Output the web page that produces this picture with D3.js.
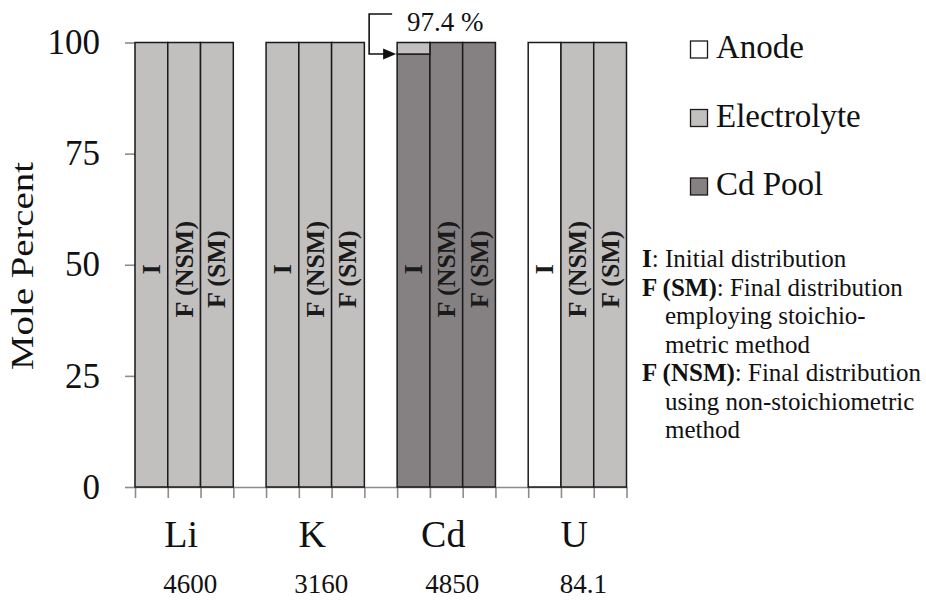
<!DOCTYPE html>
<html>
<head>
<meta charset="utf-8">
<script src="https://cdn.jsdelivr.net/npm/d3@7"></script>
<style>
  body { margin: 0; background: #fff; }
  svg text { font-family: "Liberation Serif", "DejaVu Serif", serif; }
</style>
</head>
<body>
<div id="chart"></div>
<script>
var categories = ["Li", "K", "Cd", "U"];
var totals = ["4600", "3160", "4850", "84.1"];
var distributions = ["I", "F (NSM)", "F (SM)"];

// mole percent per bar: Li I, F(NSM), F(SM), K ..., Cd ..., U ...
var anode       = [0, 0, 0,   0, 0, 0,   0, 0, 0,        100, 0, 0];
var electrolyte = [100, 100, 100,   100, 100, 100,   2.6, 0, 0,   0, 100, 100];
var cdPool      = [0, 0, 0,   0, 0, 0,   97.4, 100, 100,  0, 0, 0];

var yTicks = [0, 25, 50, 75, 100];
var legendKeys = ["Anode", "Electrolyte", "Cd Pool"];

var colors = {
    anode: "#ffffff",
    electrolyte: "#c2bfbf",
    cdPool: "#858182"
};

var serif = "'Liberation Serif', 'DejaVu Serif', serif";

var svgWidth = 926;
var svgHeight = 601;

var svg = d3.select("#chart")
    .append("svg")
    .attr("width", svgWidth)
    .attr("height", svgHeight);

// 4 slots per element (3 bars + gap)
var x = d3.scaleLinear()
    .domain([0, categories.length * 4 - 1])
    .range([135, 626.5]);

var y = d3.scaleLinear()
    .domain([0, 100])
    .range([487, 42.5]);

var slotW = x(1) - x(0);

var rows = [];
categories.forEach(function(c, ci) {
    distributions.forEach(function(d, di) {
        var i = ci * 3 + di;
        rows.push({
            slot: ci * 4 + di,
            dist: d,
            anode: anode[i],
            electrolyte: electrolyte[i],
            cdPool: cdPool[i]
        });
    });
});

var stack = d3.stack().keys(["cdPool", "anode", "electrolyte"]);
var series = stack(rows);

// axes
var axisColor = "#8e8b8b";

var leftAxis = d3.axisLeft(y).tickValues(yTicks).tickSize(10).tickSizeOuter(0).tickPadding(25);
var yG = svg.append("g")
    .attr("transform", "translate(" + x(0) + ",0)")
    .call(leftAxis);
yG.attr("font-family", serif);
yG.selectAll("text")
    .style("font-size", "35px")
    .attr("fill", "#111");

var bottomAxis = d3.axisBottom(x).tickValues(d3.range(0, categories.length * 4)).tickSize(11).tickSizeOuter(0).tickFormat("");
svg.append("g")
    .attr("transform", "translate(0," + y(0) + ")")
    .call(bottomAxis);

svg.selectAll(".domain, .tick line")
    .attr("stroke", axisColor)
    .attr("stroke-width", 1.6);

// bars
series.forEach(function(s) {
    svg.append("g")
        .selectAll("rect")
        .data(s.filter(function(d) { return d[1] - d[0] > 0; }))
        .enter()
        .append("rect")
        .attr("x", function(d) { return x(d.data.slot); })
        .attr("width", slotW)
        .attr("y", function(d) { return y(d[1]); })
        .attr("height", function(d) { return y(d[0]) - y(d[1]); })
        .attr("fill", colors[s.key])
        .attr("stroke", "#1c1a1a")
        .attr("stroke-width", 1.5);
});

// bar labels
svg.append("g")
    .selectAll("text")
    .data(rows)
    .enter()
    .append("text")
    .attr("transform", function(d) {
        return "translate(" + (x(d.slot) + slotW / 2) + "," + y(49) + ") rotate(-90)";
    })
    .attr("text-anchor", "middle")
    .attr("dominant-baseline", "central")
    .style("font-size", "26px")
    .style("font-weight", "bold")
    .attr("fill", "#1a1a1a")
    .text(function(d) { return d.dist; });

// element labels
svg.append("g")
    .selectAll("text")
    .data(categories)
    .enter()
    .append("text")
    .attr("x", function(d, i) { return x(i * 4 + 1.5) - 3; })
    .attr("y", 547)
    .attr("text-anchor", "middle")
    .style("font-size", "38px")
    .attr("fill", "#111")
    .text(function(d) { return d; });

svg.append("g")
    .selectAll("text")
    .data(totals)
    .enter()
    .append("text")
    .attr("x", function(d, i) { return x(i * 4 + 1.5) + 6; })
    .attr("y", 593)
    .attr("text-anchor", "middle")
    .style("font-size", "27px")
    .attr("fill", "#111")
    .text(function(d) { return d; });

// y title
svg.append("text")
    .attr("transform", "translate(33,266) rotate(-90)")
    .attr("text-anchor", "middle")
    .attr("textLength", 208)
    .attr("lengthAdjust", "spacingAndGlyphs")
    .style("font-size", "31px")
    .attr("fill", "#111")
    .text("Mole Percent");

// 97.4 % callout
var cdI = rows[6];
var arrowY = y(cdI.cdPool);
var arrowX = x(cdI.slot);
svg.append("path")
    .attr("d", "M" + (arrowX - 5) + ",14H" + (arrowX - 28) + "V" + arrowY + "H" + (arrowX - 12))
    .attr("fill", "none")
    .attr("stroke", "#111")
    .attr("stroke-width", 1.6);
svg.append("path")
    .attr("d", "M" + (arrowX - 1) + "," + arrowY + "l-13,-5.5v11z")
    .attr("fill", "#111");
svg.append("text")
    .attr("x", 407)
    .attr("y", 31)
    .style("font-size", "27px")
    .attr("fill", "#111")
    .text(cdI.cdPool + " %");

// legend
var legend = svg.append("g")
    .selectAll("g")
    .data(legendKeys)
    .enter()
    .append("g")
    .attr("transform", function(d, i) { return "translate(690," + (58 + i * 68.5) + ")"; });

legend.append("rect")
    .attr("x", 0.5)
    .attr("y", -17)
    .attr("width", 17)
    .attr("height", 17)
    .attr("fill", function(d, i) { return colors[["anode", "electrolyte", "cdPool"][i]]; })
    .attr("stroke", "#1c1a1a")
    .attr("stroke-width", 1.3);

legend.append("text")
    .attr("x", 26)
    .attr("y", 0)
    .style("font-size", "33px")
    .attr("fill", "#111")
    .text(function(d) { return d; });

// notes
var notes = [
    { b: "I", t: ": Initial distribution", x: 642 },
    { b: "F (SM)", t: ": Final distribution", x: 642 },
    { b: "", t: "employing stoichio-", x: 665 },
    { b: "", t: "metric method", x: 665 },
    { b: "F (NSM)", t: ": Final distribution", x: 642 },
    { b: "", t: "using non-stoichiometric", x: 665 },
    { b: "", t: "method", x: 665 }
];

var noteText = svg.append("g")
    .selectAll("text")
    .data(notes)
    .enter()
    .append("text")
    .attr("x", function(d) { return d.x; })
    .attr("y", function(d, i) { return 267 + i * 28.5; })
    .style("font-size", "25px")
    .attr("fill", "#111");

noteText.append("tspan")
    .style("font-weight", "bold")
    .text(function(d) { return d.b; });
noteText.append("tspan")
    .text(function(d) { return d.t; });
</script>
</body>
</html>
